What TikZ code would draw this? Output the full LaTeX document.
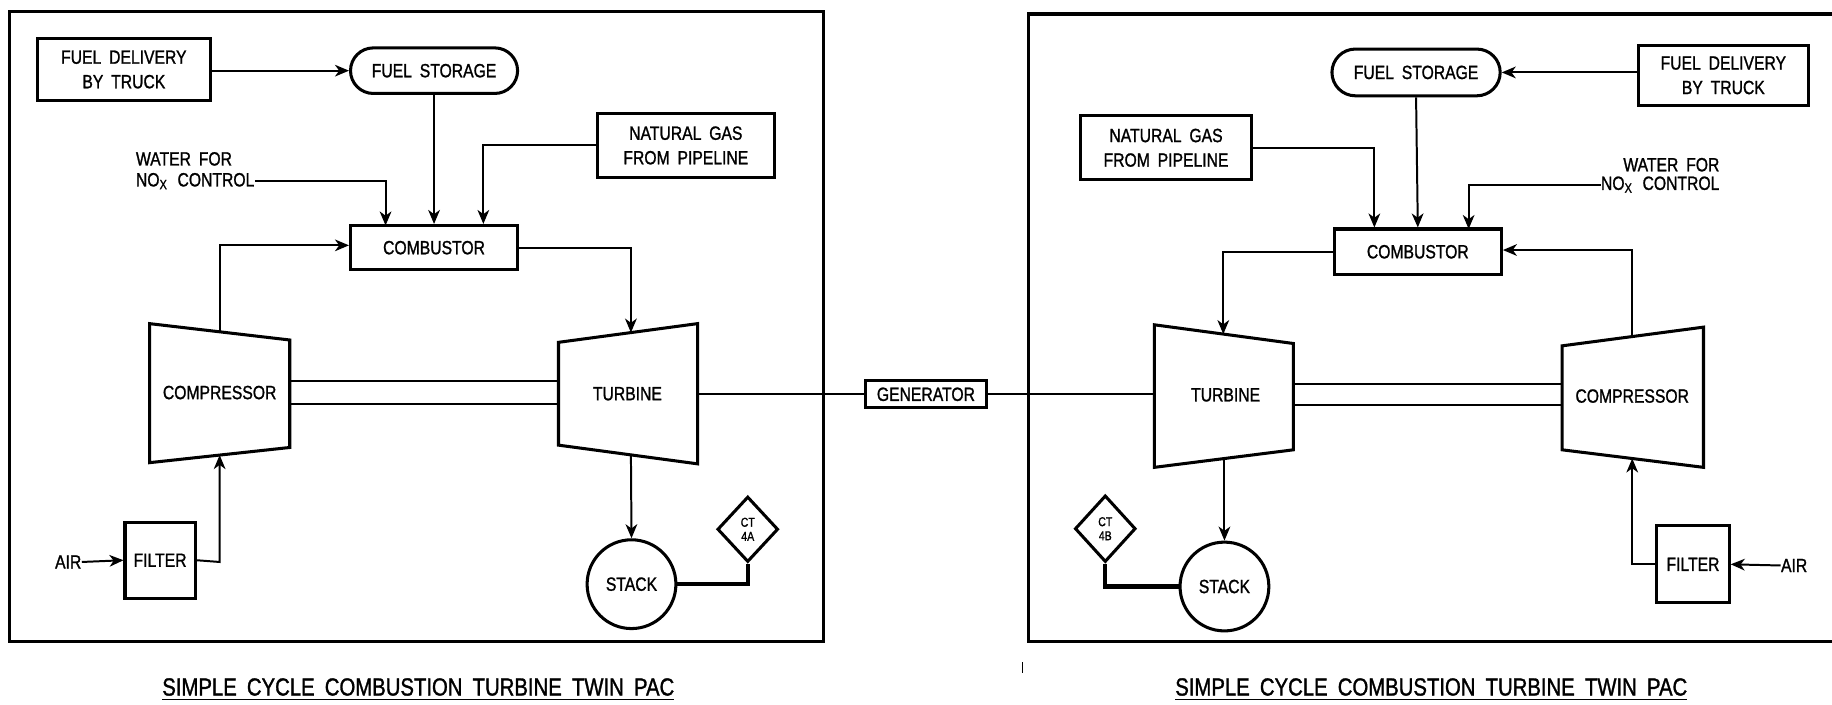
\documentclass[tikz,border=0pt]{standalone}
\usepackage{fontspec}
\setmainfont{Liberation Sans}[FakeStretch=0.82, FakeBold=1.2, WordSpace=1.8]
\usetikzlibrary{shapes.geometric,shapes.misc,arrows.meta}
\begin{document}
\begin{tikzpicture}[x=0.5pt,y=-0.5pt,
  lbl/.style={font=\fontsize{8.2}{10.5}\selectfont, align=center, inner sep=0pt},
  boxed/.style={lbl, draw, line width=1.3pt},
  frm/.style={line width=1.4pt},
  conn/.style={line width=0.85pt},
  arr/.style={conn, -{Stealth[length=6pt,width=5pt,inset=1.8pt]}},
  heavy/.style={line width=1.8pt},
  machine/.style={line width=1.3pt, line join=miter},
  captext/.style={font=\fontsize{10.6}{12}\selectfont, inner sep=0pt}
]
\useasboundingbox (0,0) rectangle (1568,603);

% frames
\draw[frm] (8,10) rectangle (705,549);
\draw[frm] (1568,12) -- (880,12) -- (880,549) -- (1568,549);
\draw[line width=0.6pt] (875,567) -- (875,576);

% ================= LEFT PANEL =================
\node[boxed, minimum width=74pt, minimum height=26.5pt] (fd1) at (106,59.5) {FUEL DELIVERY\\BY TRUCK};
\node[boxed, rounded rectangle, minimum width=71.5pt, minimum height=19.5pt] (fs1) at (371.5,60.5) {FUEL STORAGE};
\node[boxed, minimum width=76pt, minimum height=27.5pt] (ng1) at (587,124.5) {NATURAL GAS\\FROM PIPELINE};
\node[boxed, minimum width=71.5pt, minimum height=19pt] (cb1) at (371.5,212) {COMBUSTOR};
\node[lbl, anchor=west] (w1a) at (116,136) {WATER FOR};
\node[lbl, anchor=west] (w1b) at (116,155) {NO$_{\mathrm{X}}$ CONTROL};
\node[boxed, minimum width=30pt, minimum height=32.5pt] (flt1) at (137,479.5) {FILTER};
\node[lbl, anchor=east] (air1) at (70,481) {AIR};
\node[boxed, circle, minimum size=38pt] (st1) at (540.5,500) {STACK};
\node[boxed, diamond, minimum width=26pt, minimum height=28pt, font=\fontsize{5.5}{6}\selectfont] (ct1) at (640,453) {CT\\4A};
\node[boxed, minimum width=51.5pt, minimum height=11.5pt] (gen) at (792.5,337.5) {GENERATOR};

% compressor 1 / turbine 1
\draw[machine] (128,277) -- (248,291) -- (248,383) -- (128,396) -- cycle;
\node[lbl] (cp1) at (188,336) {COMPRESSOR};
\draw[machine] (478,293) -- (597,277) -- (597,397) -- (478,381) -- cycle;
\node[lbl] (tb1) at (537,337) {TURBINE};
\coordinate (cp1t) at (188,284);
\coordinate (cp1b) at (188,389.5);
\coordinate (tb1t) at (540,284.7);
\coordinate (tb1b) at (540,389.3);
\coordinate (cp1r1) at (248,326);
\coordinate (cp1r2) at (248,346);
\coordinate (tb1l1) at (478,326);
\coordinate (tb1l2) at (478,346);
\coordinate (tb1r) at (597,337.5);

% connectors left
\draw[arr] (fd1.east |- fs1) -- (fs1.west);
\draw[arr] (fs1.south) -- (cb1.north);
\draw[arr] (ng1.west) -- ++(-96,0) coordinate (ng1k) -- (ng1k |- cb1.north);
\draw[arr] (w1b.east) -- (330,155) -- (330,193);
\draw[arr] (cp1t) -- (188,210) -- (cb1.west |- 0,210);
\draw[arr] (cb1.east) -- (540,212) -- (tb1t);
\draw[conn] (cp1r1) -- (tb1l1);
\draw[conn] (cp1r2) -- (tb1l2);
\draw[conn] (tb1r) -- (gen.west);
\draw[arr] (tb1b) -- (st1.north);
\draw[heavy] (st1.east) -| (ct1.south);
\draw[arr] (air1.east) -- (flt1.west);
\draw[arr] (flt1.east) -- (188,481) -- (cp1b);

% ================= RIGHT PANEL =================
\node[boxed, minimum width=73pt, minimum height=25.5pt] (fd2) at (1475,64.5) {FUEL DELIVERY\\BY TRUCK};
\node[boxed, rounded rectangle, minimum width=72pt, minimum height=20pt] (fs2) at (1212,62) {FUEL STORAGE};
\node[boxed, minimum width=73pt, minimum height=27.5pt] (ng2) at (998,126.5) {NATURAL GAS\\FROM PIPELINE};
\node[boxed, minimum width=71.5pt, minimum height=19.5pt] (cb2) at (1213.5,215.5) {COMBUSTOR};
\node[lbl, anchor=east] (w2a) at (1472,141) {WATER FOR};
\node[lbl, anchor=east] (w2b) at (1472,158) {NO$_{\mathrm{X}}$ CONTROL};
\node[boxed, minimum width=31pt, minimum height=33pt] (flt2) at (1449,483) {FILTER};
\node[lbl, anchor=west] (air2) at (1524,484) {AIR};
\node[boxed, circle, minimum size=38pt] (st2) at (1048,502) {STACK};
\node[boxed, diamond, minimum width=26pt, minimum height=28.5pt, font=\fontsize{5.5}{6}\selectfont] (ct2) at (946,452.5) {CT\\4B};

\draw[machine] (988,278) -- (1107,294) -- (1107,385) -- (988,400) -- cycle;
\node[lbl] (tb2) at (1049,338) {TURBINE};
\draw[machine] (1337,296) -- (1458,280) -- (1458,400) -- (1337,385) -- cycle;
\node[lbl] (cp2) at (1397,339) {COMPRESSOR};
\coordinate (tb2t) at (1047,286);
\coordinate (tb2b) at (1048,392.6);
\coordinate (cp2t) at (1397,288);
\coordinate (cp2b) at (1397,392.4);
\coordinate (tb2l) at (988,337.5);
\coordinate (tb2r1) at (1107,329);
\coordinate (tb2r2) at (1107,347);
\coordinate (cp2l1) at (1337,329);
\coordinate (cp2l2) at (1337,347);

\draw[arr] (fd2.west |- fs2) -- (fs2.east);
\draw[arr] (fs2.south) -- (cb2.north);
\draw[arr] (ng2.east) -- ++(104,0) coordinate (ng2k) -- (ng2k |- cb2.north);
\draw[arr] (w2b.west) -- (1257,158) -- (1257,196);
\draw[arr] (cb2.west) -- (1047,215.5) -- (tb2t);
\draw[arr] (cp2t) -- (1397,214) -- (cb2.east |- 0,214);
\draw[conn] (gen.east) -- (tb2l);
\draw[conn] (tb2r1) -- (cp2l1);
\draw[conn] (tb2r2) -- (cp2l2);
\draw[arr] (tb2b) -- (st2.north);
\draw[heavy] (ct2.south) |- (st2.west);
\draw[arr] (air2.west) -- (flt2.east);
\draw[arr] (flt2.west) -- (1397,483) -- (cp2b);

% captions
\node[captext] (cap1) at (358,590) {\underline{SIMPLE CYCLE COMBUSTION TURBINE TWIN PAC}};
\node[captext] (cap2) at (1225,590) {\underline{SIMPLE CYCLE COMBUSTION TURBINE TWIN PAC}};
\end{tikzpicture}
\end{document}
